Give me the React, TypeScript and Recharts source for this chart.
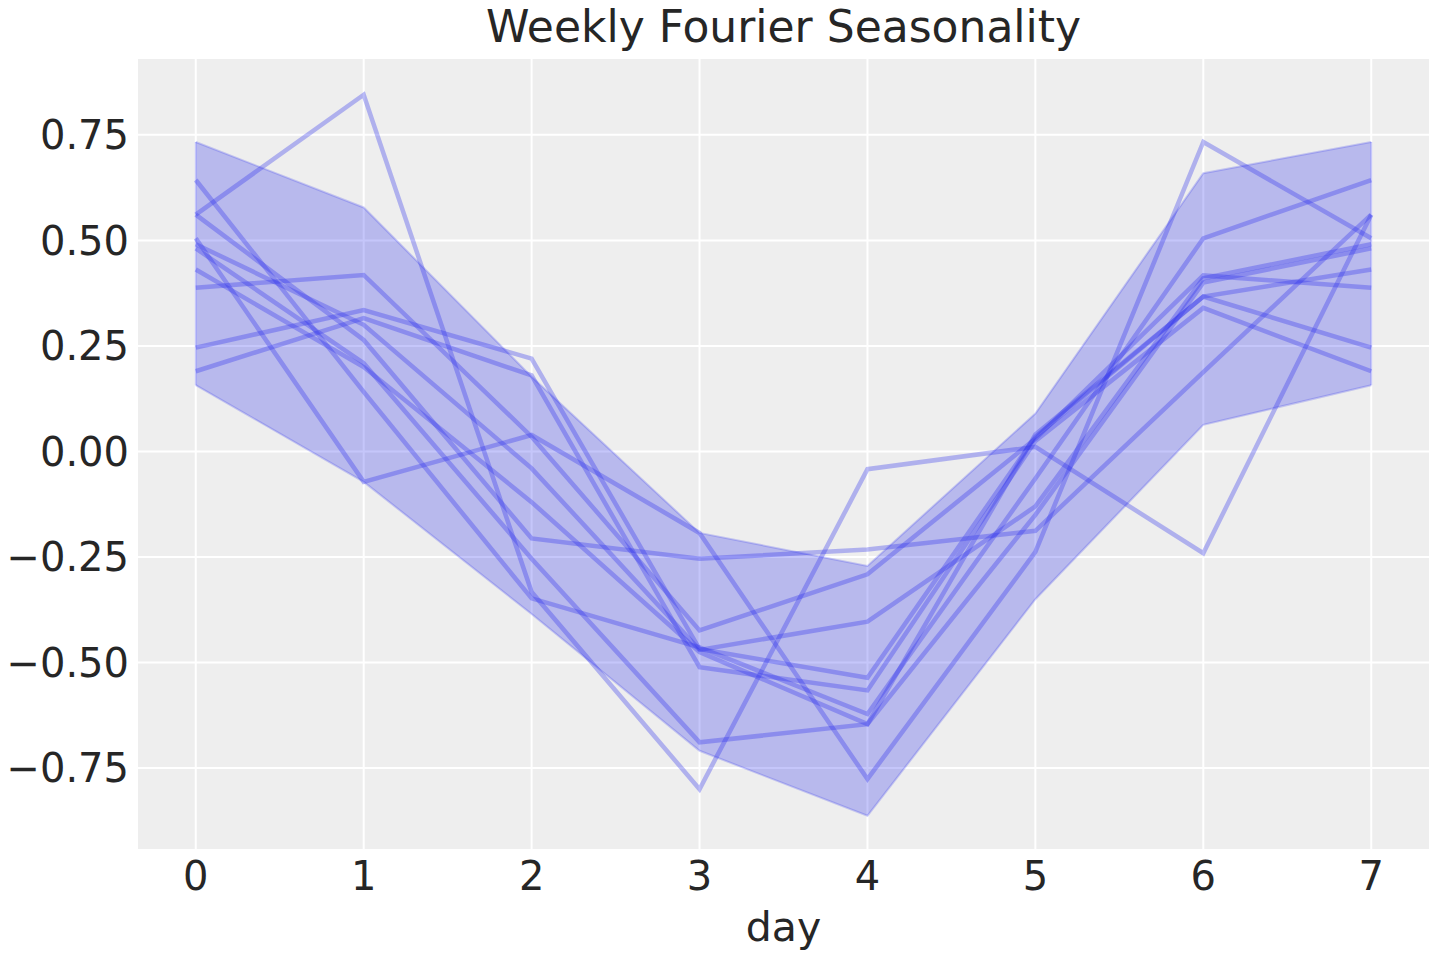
import React from "react";
import {
  ComposedChart, Area, Line, XAxis, YAxis, CartesianGrid, ReferenceLine,
} from "recharts";

// weekly seasonality: 10 posterior draws plus the HDI band
const days = [0, 1, 2, 3, 4, 5, 6, 7];
const bandHigh = [0.733, 0.578, 0.177, -0.193, -0.271, 0.09, 0.659, 0.733];
const bandLow = [0.157, -0.072, -0.385, -0.709, -0.863, -0.35, 0.063, 0.157];

const drawA = [0.561, 0.845, -0.333, -0.8, -0.042, 0.011, -0.241, 0.561];
const drawB = [0.246, 0.335, 0.22, -0.468, -0.536, 0.035, 0.367, 0.246];
const drawC = [0.19, 0.316, 0.18, -0.511, -0.566, 0.025, 0.34, 0.19];
const drawD = [0.505, -0.072, 0.039, -0.193, -0.776, -0.238, 0.733, 0.505];
const drawE = [0.643, 0.141, -0.348, -0.464, -0.622, -0.064, 0.505, 0.643];
const drawF = [0.561, 0.264, -0.206, -0.254, -0.232, -0.188, 0.188, 0.561];
const drawG = [0.388, 0.418, 0.035, -0.424, -0.291, 0.03, 0.417, 0.388];
const drawH = [0.491, 0.3, -0.04, -0.47, -0.403, -0.13, 0.41, 0.491];
const drawI = [0.481, 0.209, -0.254, -0.689, -0.646, -0.15, 0.4, 0.481];
const drawJ = [0.431, 0.2, -0.12, -0.475, -0.646, 0.04, 0.367, 0.431];

const draws = [drawA, drawB, drawC, drawD, drawE, drawF, drawG, drawH, drawI, drawJ];

const yTicks = [-0.75, -0.5, -0.25, 0, 0.25, 0.5, 0.75];

const BLUE = "#2a2eec";
const TEXT = "#262626";
const FONT = "'DejaVu Sans', sans-serif";

const rows = days.map((d, i) => {
  const row: Record<string, any> = { day: d, band: [bandLow[i], bandHigh[i]] };
  draws.forEach((s, k) => { row["s" + k] = s[i]; });
  return row;
});

const fmt = (v: number) => (v < 0 ? "\u2212" : "") + Math.abs(v).toFixed(2);

export default function App() {
  const last = days.length - 1;
  return (
    <div style={{ position: "absolute", left: 0, top: 0, width: 1440, height: 960, background: "#fff" }}>
      <ComposedChart width={1440} height={960} data={rows} margin={{ top: 58, right: 10, bottom: 0, left: 0 }}>
        <CartesianGrid stroke="#ffffff" strokeWidth={2} fill="#eeeeee" fillOpacity={1} />
        <XAxis
          dataKey="day" type="number" domain={[-0.35, 7.35]} ticks={days} allowDataOverflow
          height={110} axisLine={false} tickLine={false} tickSize={0} tickMargin={12}
          tick={{ fontSize: 40, fill: TEXT, fontFamily: FONT }}
        />
        <YAxis
          type="number" domain={[-0.944, 0.932]} ticks={yTicks} allowDataOverflow
          width={137} axisLine={false} tickLine={false} tickSize={0} tickMargin={8}
          tickFormatter={fmt} tick={{ fontSize: 40, fill: TEXT, fontFamily: FONT }}
        />
        <Area
          type="linear" dataKey="band" fill={BLUE} fillOpacity={0.27}
          stroke={BLUE} strokeOpacity={0.22} strokeWidth={2} isAnimationActive={false}
        />
        <ReferenceLine segment={[{ x: days[0], y: bandLow[0] }, { x: days[0], y: bandHigh[0] }]} stroke={BLUE} strokeOpacity={0.22} strokeWidth={2} />
        <ReferenceLine segment={[{ x: days[last], y: bandLow[last] }, { x: days[last], y: bandHigh[last] }]} stroke={BLUE} strokeOpacity={0.22} strokeWidth={2} />
        {draws.map((_, k) => (
          <Line
            key={k} type="linear" dataKey={"s" + k} stroke={BLUE} strokeOpacity={0.32}
            strokeWidth={4.5} dot={false} activeDot={false} isAnimationActive={false}
          />
        ))}
      </ComposedChart>
      <svg width={1440} height={960} style={{ position: "absolute", left: 0, top: 0, pointerEvents: "none" }}>
        <text x={783.5} y={42} textAnchor="middle" fontSize={44} fill={TEXT} fontFamily={FONT}>
          Weekly Fourier Seasonality
        </text>
        <text x={783.5} y={941} textAnchor="middle" fontSize={41} fill={TEXT} fontFamily={FONT}>
          day
        </text>
      </svg>
    </div>
  );
}
